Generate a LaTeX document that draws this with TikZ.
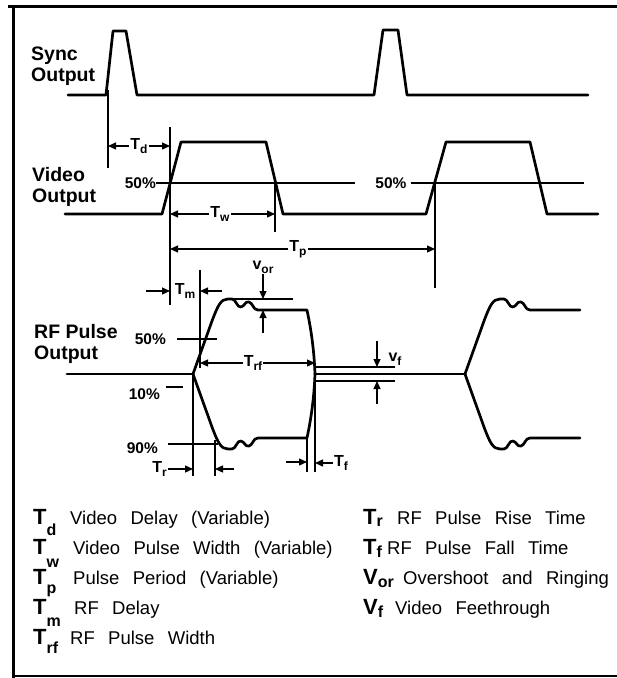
\documentclass[tikz,border=0pt]{standalone}
\usepackage{fontspec}
\setmainfont{Liberation Sans}
\newfontfamily\legendfont[WordSpace=2.6]{Liberation Sans}
\usetikzlibrary{arrows.meta}
\newcommand\sig[2]{#1\raisebox{-4pt}{\fontsize{12}{12}\selectfont #2}}
\newcommand\lsig[3]{{\fontsize{22}{22}\selectfont #1}\raisebox{-#3}{\fontsize{16}{16}\selectfont #2}}
\begin{document}
\begin{tikzpicture}[x=1pt, y=-1pt,
        wave/.style={line width=2.7pt, line join=round, line cap=round},
        guide/.style={line width=1.2pt},
        dim/.style={line width=1.2pt, -{Triangle[length=8pt,width=7pt]}},
        lbl/.style={font=\bfseries\fontsize{16}{16}\selectfont, inner sep=1pt},
        chan/.style={font=\bfseries\fontsize{19.5}{21}\selectfont, align=left, anchor=north west, inner sep=0pt},
        pct/.style={font=\bfseries\fontsize{15.5}{15.5}\selectfont, inner sep=0pt},
        symb/.style={anchor=base west, inner sep=0pt, font=\bfseries},
        desc/.style={anchor=base west, inner sep=0pt, font=\legendfont\fontsize{18.5}{18.5}\selectfont},
        ]
        \useasboundingbox (0,0) rectangle (617,678);
        % frame
        \draw[line width=3pt] (8,6) -- (617,6);
        \draw[line width=3pt] (13,6) -- (13,678);
        \draw[line width=1.5pt] (13,676) -- (617,676);

        % channel names
        \node[chan] (sync) at (31,47) {Sync\\Output};
        \node[chan] (video) at (32,167) {Video\\Output};
        \node[chan] (rf) at (34,324) {RF Pulse\\Output};

        % sync and video waveforms
        \draw[wave] (68,95) -- (106,95) -- (113,31) -- (126,31) -- (137,95) -- (374,95)
            -- (383,30) -- (398,30) -- (407,95) -- (588,95);
        \draw[wave] (65,214) -- (162,214) -- (181,142) -- (266,142) -- (283,214) -- (426,214)
            -- (446,142) -- (530,142) -- (547,214) -- (598,214);

        % 50% level of the video
        \node[pct, anchor=east] (v50a) at (156,183) {50\%};
        \node[pct] (v50b) at (391,183) {50\%};
        \draw[guide] (v50a.east) -- ([xshift=-20pt]v50b.west);
        \draw[guide] ([xshift=4pt]v50b.east) -- (584,183);

        % guide lines
        \coordinate (sA) at (108,90);  \coordinate (sB) at (108,168);
        \coordinate (vA) at (170,127); \coordinate (vB) at (170,305);
        \coordinate (wA) at (275,183); \coordinate (wB) at (275,232);
        \coordinate (pA) at (435,183); \coordinate (pB) at (435,288);
        \coordinate (mA) at (200,270); \coordinate (mB) at (200,368);
        \coordinate (rA) at (193,374); \coordinate (rB) at (193,476);
        \coordinate (nA) at (215,440); \coordinate (nB) at (215,476);
        \coordinate (fA) at (307,436); \coordinate (fB) at (307,472);
        \coordinate (gA) at (315,376); \coordinate (gB) at (315,472);
        \foreach \g in {s,v,w,p,m,r,n,f,g}
            \draw[guide] (\g A) -- (\g B);

        % video timing
        \node[lbl] (td) at (139,146) {\sig{T}{d}};
        \draw[dim] (td) -- (td -| sA);
        \draw[dim] (td) -- (td -| vA);
        \node[lbl] (tw) at (220,214) {\sig{T}{w}};
        \draw[dim] (tw) -- (tw -| vA);
        \draw[dim] (tw) -- (tw -| wA);
        \node[lbl] (tp) at (298,249) {\sig{T}{p}};
        \draw[dim] (tp) -- (tp -| vA);
        \draw[dim] (tp) -- (tp -| pA);

        % RF pulses
        \draw[wave] (67,374) -- (193,374);
        \draw[wave] (315,374) -- (465,374);
        \foreach \s in {1,-1} {
            \draw[wave, shift={(193,374)}, yscale=\s] (0,0) -- (19,-53)
                .. controls (25,-69) and (28,-75) .. (35,-75) -- (39,-75)
                .. controls (43,-75) and (44,-66) .. (48,-67)
                .. controls (52,-68) and (52,-73) .. (56,-72)
                .. controls (60,-71) and (60,-64) .. (65,-64) -- (114,-64)
                .. controls (118,-45) and (121,-25) .. (122,0);
            \draw[wave, shift={(465,374)}, yscale=\s] (0,0) -- (19,-53)
                .. controls (25,-69) and (28,-75) .. (35,-75) -- (39,-75)
                .. controls (43,-75) and (44,-66) .. (48,-67)
                .. controls (52,-68) and (52,-73) .. (56,-72)
                .. controls (60,-71) and (60,-64) .. (65,-64) -- (115,-64);
        }

        % RF levels
        \node[pct, anchor=east] (r50) at (166,339) {50\%};
        \draw[guide] ([xshift=11pt]r50.east) -- (217,339);
        \node[pct, anchor=east] (r10) at (160,394) {10\%};
        \draw[guide] (166,387) -- (183,387);
        \node[pct, anchor=east] (r90) at (158,448) {90\%};
        \draw[guide] (168,444) -- (218,444);

        % RF timing
        \node[lbl] (tm) at (185,291) {\sig{T}{m}};
        \coordinate (tmL) at (146,291); \coordinate (tmR) at (222,291);
        \draw[dim] (tmL) -- (tmL -| vA);
        \draw[dim] (tmR) -- (tmR -| mA);
        \node[lbl] (trf) at (253,363) {\sig{T}{rf}};
        \draw[dim] (trf) -- (trf -| mA);
        \draw[dim] (trf) -- (trf -| gA);
        \node[lbl, anchor=east] (tr) at (168,469) {\sig{T}{r}};
        \coordinate (trR) at (234,469);
        \draw[dim] (tr) -- (tr -| rA);
        \draw[dim] (trR) -- (trR -| nA);
        \node[lbl, anchor=west] (tf) at (333,463) {\sig{T}{f}};
        \coordinate (tfL) at (286,462);
        \draw[dim] (tfL) -- (tfL -| fA);
        \draw[dim] (tf) -- (tf -| gA);

        % overshoot
        \draw[guide] (225,299) -- (293,299);
        \node[lbl] (vor) at (263,267) {\sig{v}{or}};
        \coordinate (orT) at (263,299); \coordinate (orB) at (263,310);
        \coordinate (orL) at (263,333);
        \draw[dim] (vor) -- (orT);
        \draw[dim] (orL) -- (orB);

        % feedthrough
        \draw[guide] (315,367) -- (395,367);
        \draw[guide] (315,381) -- (395,381);
        \node[lbl] (vf) at (395,359) {\sig{v}{f}};
        \coordinate (vfT) at (377,367); \coordinate (vfB) at (377,381);
        \coordinate (vfH) at (377,341); \coordinate (vfL) at (377,404);
        \draw[dim] (vfH) -- (vfT);
        \draw[dim] (vfL) -- (vfB);

        % legend
        \node[symb] (kd) at (33,524) {\lsig{T}{d}{11pt}};
        \node[desc] (kdt) at (70,524) {Video Delay (Variable)};
        \node[symb] (kw) at (33,554) {\lsig{T}{w}{13pt}};
        \node[desc] (kwt) at (73,554) {Video Pulse Width (Variable)};
        \node[symb] (kp) at (33,584) {\lsig{T}{p}{9pt}};
        \node[desc] (kpt) at (73,584) {Pulse Period (Variable)};
        \node[symb] (km) at (33,614) {\lsig{T}{m}{12pt}};
        \node[desc] (kmt) at (74,614) {RF Delay};
        \node[symb] (krf) at (33,644) {\lsig{T}{rf}{9pt}};
        \node[desc] (krft) at (70,644) {RF Pulse Width};
        \node[symb] (kr) at (363,524) {\lsig{T}{r}{2pt}};
        \node[desc] (krt) at (397,524) {RF Pulse Rise Time};
        \node[symb] (kf) at (363,554) {\lsig{T}{f}{3pt}};
        \node[desc] (kft) at (387,554) {RF Pulse Fall Time};
        \node[symb] (kor) at (363,584) {\lsig{V}{or}{3pt}};
        \node[desc] (kort) at (403,584) {Overshoot and Ringing};
        \node[symb] (kvf) at (363,614) {\lsig{V}{f}{3pt}};
        \node[desc] (kvft) at (395,614) {Video Feethrough};
\end{tikzpicture}
\end{document}
